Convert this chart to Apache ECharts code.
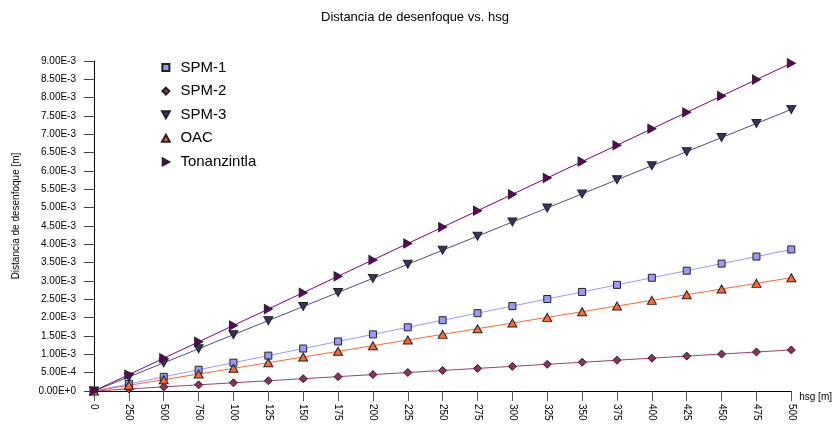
<!DOCTYPE html>
<html>
<head>
<meta charset="utf-8">
<script src="https://cdn.jsdelivr.net/npm/echarts@6/dist/echarts.min.js"></script>
<style>html,body{margin:0;padding:0;background:#fff;}#c{width:835px;height:428px;}</style>
</head>
<body>
<div id="c"></div>
<script>
var hsg = [0,250,500,750,1000,1250,1500,1750,2000,2250,2500,2750,3000,3250,3500,3750,4000,4250,4500,4750,5000];
var xTickLabels = ['0','250','500','750','100','125','150','175','200','225','250','275','300','325','350','375','400','425','450','475','500'];
var spm1 = [0,0.000193,0.000386,0.000579,0.000772,0.000965,0.001158,0.001351,0.001544,0.001737,0.00193,0.002123,0.002316,0.002509,0.002702,0.002895,0.003088,0.003281,0.003474,0.003667,0.00386];
var spm2 = [0,0.000056,0.000112,0.000168,0.000224,0.00028,0.000336,0.000392,0.000448,0.000504,0.00056,0.000616,0.000672,0.000728,0.000784,0.00084,0.000896,0.000952,0.001008,0.001064,0.00112];
var spm3 = [0,0.000384,0.000768,0.001152,0.001536,0.00192,0.002304,0.002688,0.003072,0.003456,0.00384,0.004224,0.004608,0.004992,0.005376,0.00576,0.006144,0.006528,0.006912,0.007296,0.00768];
var oac = [0,0.0001545,0.000309,0.0004635,0.000618,0.0007725,0.000927,0.0010815,0.001236,0.0013905,0.001545,0.0016995,0.001854,0.0020085,0.002163,0.0023175,0.002472,0.0026265,0.002781,0.0029355,0.00309];
var tonan = [0,0.000447,0.000894,0.001341,0.001788,0.002235,0.002682,0.003129,0.003576,0.004023,0.00447,0.004917,0.005364,0.005811,0.006258,0.006705,0.007152,0.007599,0.008046,0.008493,0.00894];
var seriesNames = ['SPM-1','SPM-2','SPM-3','OAC','Tonanzintla'];

var sq = 'path://M0,0L10,0L10,10L0,10Z';
var dia = 'path://M5,0L10,5L5,10L0,5Z';
var triDown = 'path://M0,0L10,0L5,9Z';
var triUp = 'path://M5,0L10,9L0,9Z';
var triRight = 'path://M0,0L9,5L0,10Z';

function pairs(arr){ return hsg.map(function(x,i){ return [x, arr[i]]; }); }

var defs = [
  {name:seriesNames[0], data:spm1, symbol:'rect', icon:sq, size:7, fill:'#9999ff', line:'#9999ff'},
  {name:seriesNames[1], data:spm2, symbol:'diamond', icon:dia, size:8, fill:'#8f2f5f', line:'#a0406e'},
  {name:seriesNames[2], data:spm3, symbol:triDown, icon:triDown, size:[9,8], fill:'#333366', line:'#4d4d80'},
  {name:seriesNames[3], data:oac, symbol:triUp, icon:triUp, size:[9,8], fill:'#ff6633', line:'#ff6633'},
  {name:seriesNames[4], data:tonan, symbol:triRight, icon:triRight, size:[8,9], fill:'#660066', line:'#800080'}
];

var chart = echarts.init(document.getElementById('c'), null, {renderer:'canvas'});
chart.setOption({
  animation:false,
  backgroundColor:'#fff',
  textStyle:{fontFamily:'Liberation Sans, Arial, sans-serif'},
  title:{text:'Distancia de desenfoque vs. hsg', left:316, top:6,
    textStyle:{fontSize:13, fontWeight:'normal', color:'#000', fontFamily:'Liberation Sans'}},
  legend:{orient:'vertical', left:156, top:55, itemWidth:19, itemHeight:7, itemGap:8.6,
    symbolKeepAspect:true,
    textStyle:{fontSize:15, color:'#000', fontFamily:'Liberation Sans'},
    data: defs.map(function(d){ return {name:d.name, icon:d.icon}; })},
  grid:{left:94, right:37, top:61, bottom:37, containLabel:false},
  xAxis:{type:'value', min:0, max:5000, interval:250,
    name:'hsg [m]', nameLocation:'end', nameGap:3,
    nameTextStyle:{fontSize:10, color:'#000', verticalAlign:'top', align:'left', padding:[1,0,0,0]},
    axisLine:{show:true, onZero:false, lineStyle:{color:'#000', width:1}},
    axisTick:{show:true, length:10, lineStyle:{color:'#555'}},
    splitLine:{show:false},
    axisLabel:{rotate:-90, fontSize:10, color:'#000', margin:13, showMaxLabel:true, showMinLabel:true,
      formatter:function(v){ var i = hsg.indexOf(v); return i>=0 ? xTickLabels[i] : ''; }}},
  yAxis:{type:'value', min:0, max:0.009, interval:0.0005,
    name:'Distancia de desenfoque [m]', nameLocation:'middle', nameGap:73,
    nameTextStyle:{fontSize:10, color:'#000', padding:[0,0,0,20]},
    axisLine:{show:true, lineStyle:{color:'#000', width:1}},
    axisTick:{show:true, length:10, lineStyle:{color:'#444'}},
    splitLine:{show:false},
    axisLabel:{fontSize:10, color:'#000', margin:18,
      formatter:function(v){ return v.toExponential(2).toUpperCase(); }}},
  series: defs.map(function(d){
    return {name:d.name, type:'line', data:pairs(d.data), symbol:d.symbol, symbolSize:d.size,
      showAllSymbol:true,
      lineStyle:{color:d.line, width:1},
      itemStyle:{color:d.fill, borderColor:'#222', borderWidth:1, opacity:1},
      emphasis:{disabled:true}};
  })
});
</script>
</body>
</html>
